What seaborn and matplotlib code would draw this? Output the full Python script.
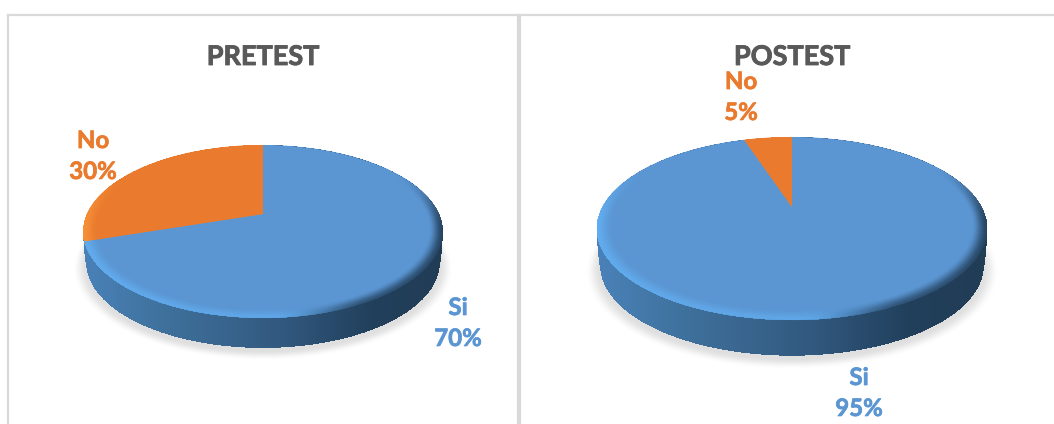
import numpy as np
import matplotlib
matplotlib.use("Agg")
import matplotlib.pyplot as plt
import matplotlib.patheffects as pe
import matplotlib.transforms as mtransforms
import seaborn as sns

# Survey answers for each test
TITLES = ["PRETEST", "POSTEST"]
CATEGORIES = ["Si", "No"]
PRETEST_VALUES = [70, 30]
POSTEST_VALUES = [95, 5]

BLUE, ORANGE = "#5b96d3", "#ea7b2e"
FIG_W, FIG_H = 1054, 424
TITLE_SIZE = 19.5
LABEL_SIZE = 17.3

sns.set_theme(style="white")
plt.rcParams["font.family"] = ["Lato", "DejaVu Sans"]
palette = sns.color_palette([BLUE, ORANGE])


class Tilt(mtransforms.Transform):
    """Perspective view of the unit disc, in pixel coordinates."""
    input_dims = output_dims = 2

    def __init__(self, cx, cy, a, s, k):
        super().__init__()
        self.cx, self.cy, self.a, self.s, self.k = cx, cy, a, s, k

    def transform_non_affine(self, xy):
        xy = np.asarray(xy, float)
        w = 1 + self.k * xy[:, 1]
        return np.column_stack([self.cx + self.a * xy[:, 0] / w,
                                self.cy - self.s * xy[:, 1] / w])

    def to_disc(self, px, py):
        X = (px - self.cx) / self.a
        Y = (self.cy - py) / self.s
        w = 1 - self.k * Y
        return X / w, Y / w


def smooth(t):
    t = np.clip(t, 0, 1)
    return t * t * (3 - 2 * t)


def rgb(c):
    return np.array(matplotlib.colors.to_rgb(c))


def draw_pie(ax, title, values, tilt, depth, title_xy, no_xy, si_xy):
    x0, x1 = ax.get_xlim()
    y1, y0 = ax.get_ylim()
    xs = np.arange(np.floor(x0), np.ceil(x1)) + 0.5
    ys = np.arange(np.floor(y0), np.ceil(y1)) + 0.5
    px, py = np.meshgrid(xs, ys)
    extent = (xs[0] - .5, xs[-1] + .5, ys[-1] + .5, ys[0] - .5)

    # Soft floor shadow
    u, v = tilt.to_disc(px, py - depth - 3)
    r = np.hypot(u, v)
    shadow = np.zeros(px.shape + (4,))
    shadow[..., :3] = 0.80
    shadow[..., 3] = 0.62 * (1 - smooth((r - 0.98) / 0.075))
    ax.imshow(shadow, extent=extent, zorder=1, aspect="auto", interpolation="bilinear")

    # Side wall: the disc swept downwards with a slight taper, shaded left to right
    limit = 90 + 360 * values[1] / sum(values)
    side = np.zeros(px.shape + (4,))
    t = (px - tilt.cx) / (tilt.a * 1.03) * 0.5 + 0.5
    stops_t = [0.0, 0.2, 0.55, 0.8, 1.0]
    stops_c = np.array([rgb(c) for c in ("#4a82b9", "#40739f", "#32597f", "#21405c", "#213c55")])
    for i in range(3):
        side[..., i] = np.interp(t, stops_t, stops_c[:, i])
    in_side = np.zeros(px.shape, bool)
    in_lip = np.zeros(px.shape, bool)
    for d in np.linspace(0, depth, int(depth) + 1):
        u, v = tilt.to_disc(px, py - d)
        shrink = 1 - 0.016 * (d / depth) ** 2
        inside = np.hypot(u, v) <= shrink
        in_side |= inside
        if d <= 6:
            in_lip |= inside
    ua, va = tilt.to_disc(px, py - 3)
    ang = np.degrees(np.arctan2(va, ua)) % 360
    no_zone = (ang > 90) & (ang < limit)
    side[no_zone & in_lip, :3] = rgb("#e98232")
    side[..., 3] = in_side
    ax.imshow(side, extent=extent, zorder=2, aspect="auto", interpolation="bilinear")

    # Top face: the pie itself, seen through the perspective transform
    wedges, _ = ax.pie(values, colors=palette, startangle=90, counterclock=False, radius=1)
    for w in wedges:
        w.set_transform(tilt + ax.transData)
        w.set_zorder(3)
        w.set_linewidth(0)
    ax.set_aspect("auto")
    ax.set(xlim=(x0, x1), ylim=(y1, y0))

    # Bevel around the rim: bright at front left, dark towards the right
    u, v = tilt.to_disc(px, py)
    r = np.hypot(u, v)
    ang = np.degrees(np.arctan2(v, u)) % 360
    edge = (r - 0.925) / 0.075
    bevel = np.zeros(px.shape + (4,))
    on_no = ((ang > 90) & (ang < limit))[..., None]
    light = np.where(on_no, rgb("#f79238"), rgb("#62aef2"))
    dark = rgb("#23405c")
    mix = smooth((px - (tilt.cx + tilt.a * 0.05)) / (tilt.a * 0.55))[..., None]
    bevel[..., :3] = light * (1 - mix) + dark * mix
    front = smooth((0.55 - np.sin(np.radians(ang))) / 0.75)
    peak = 0.95 * (1 - 0.25 * np.sin(np.radians(ang)) ** 2)
    bevel[..., 3] = smooth(edge) * front * peak * (r <= 1.002)
    ax.imshow(bevel, extent=extent, zorder=4, aspect="auto", interpolation="bilinear")
    ax.set(xlim=(x0, x1), ylim=(y1, y0))

    # Title and category labels
    ttl = ax.set_title(title, fontsize=TITLE_SIZE, fontweight="bold", color="#595959",
                       x=(title_xy[0] - x0) / (x1 - x0), y=1 - (title_xy[1] - y0) / (y1 - y0), pad=0)
    ttl.set_path_effects([pe.withStroke(linewidth=0.6, foreground="#595959")])
    for name, val, xy, col in zip(CATEGORIES, values, (si_xy, no_xy), palette):
        lab = ax.text(xy[0], xy[1], f"{name}\n{val}%", color=col, fontsize=LABEL_SIZE,
                      fontweight="bold", ha="center", va="center", linespacing=1.42, zorder=6)
        lab.set_path_effects([pe.withStroke(linewidth=0.5, foreground=col)])


fig = plt.figure(figsize=(FIG_W / 100, FIG_H / 100), dpi=100, facecolor="white")


def panel(x0, x1, y0, y1):
    ax = fig.add_axes([x0 / FIG_W, 1 - y1 / FIG_H, (x1 - x0) / FIG_W, (y1 - y0) / FIG_H])
    ax.set(xlim=(x0, x1), ylim=(y1, y0), xticks=[], yticks=[])
    return ax


ax_pre = panel(8, 518, 15, 424)
ax_post = panel(520, 1054, 15, 424)

draw_pie(ax_pre, TITLES[0], PRETEST_VALUES, Tilt(263, 214, 176, 83, 0.202), 32,
         (263, 65), (93, 156), (458, 323))
draw_pie(ax_post, TITLES[1], POSTEST_VALUES, Tilt(792, 207, 189.6, 86.5, 0.235), 38,
         (792, 65), (741, 97), (859, 393))

for ax, hidden in ((ax_pre, ("bottom",)), (ax_post, ("bottom", "right"))):
    ax.set_frame_on(True)
    for name, spine in ax.spines.items():
        spine.set_visible(name not in hidden)
        spine.set_color("#d9d9d9")
        spine.set_linewidth(1.6)

fig.savefig("out.png", dpi=100)
